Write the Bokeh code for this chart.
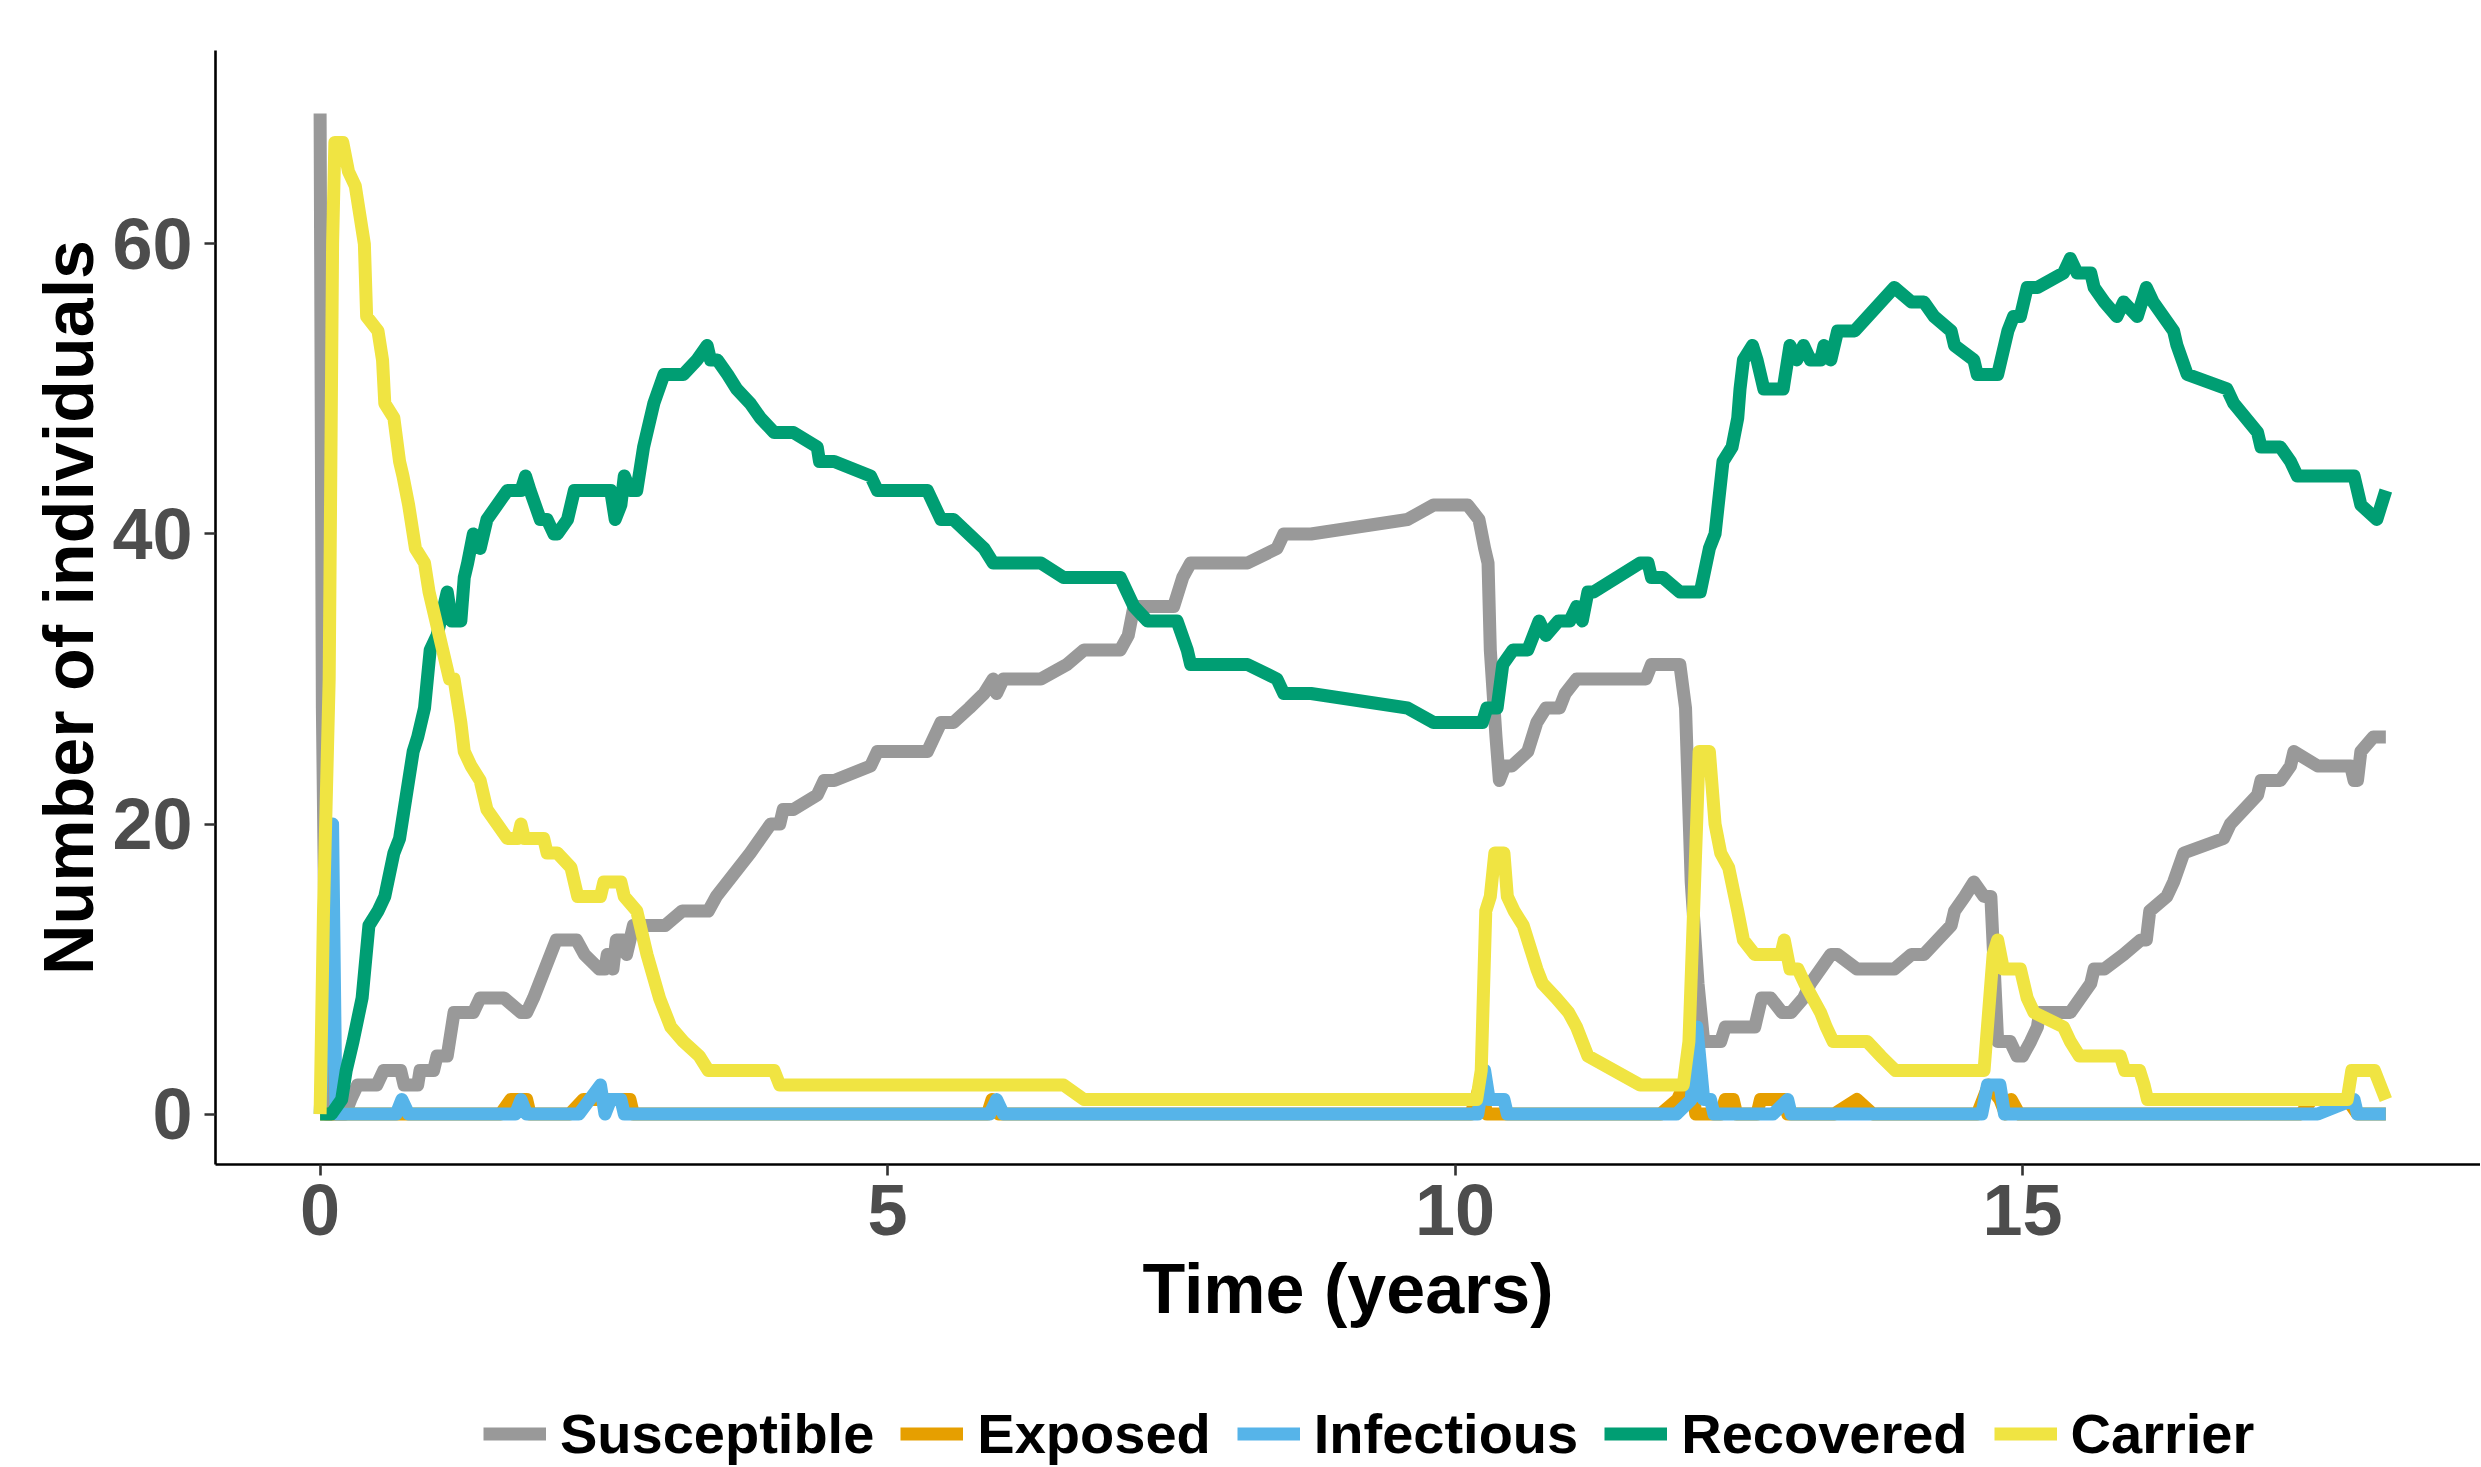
from bokeh.plotting import figure
from bokeh.layouts import column
from bokeh.models import Range1d, FixedTicker, Legend, LegendItem
from bokeh.embed import file_html
from bokeh.resources import INLINE

# ---- data (time in years, number of individuals) ----
susceptible = [(0, 69), (0.02, 28), (0.06, 0), (0.22, 0), (0.27, 1), (0.33, 2), (0.5, 2), (0.56, 3),
               (0.71, 3), (0.74, 2), (0.86, 2), (0.88, 3), (1.0, 3), (1.03, 4), (1.12, 4), (1.18, 7),
               (1.35, 7), (1.41, 8), (1.62, 8), (1.77, 7), (1.82, 7), (1.88, 8), (1.93, 9), (1.98, 10),
               (2.03, 11), (2.08, 12), (2.26, 12), (2.33, 11), (2.46, 10), (2.51, 10), (2.53, 11),
               (2.58, 10), (2.61, 12), (2.67, 12), (2.7, 11), (2.76, 13), (3.04, 13), (3.19, 14),
               (3.42, 14), (3.49, 15), (3.59, 16), (3.69, 17), (3.79, 18), (3.88, 19), (3.97, 20),
               (4.05, 20), (4.08, 21), (4.17, 21), (4.38, 22), (4.44, 23), (4.53, 23), (4.85, 24),
               (4.91, 25), (5.35, 25), (5.41, 26), (5.47, 27), (5.58, 27), (5.72, 28), (5.85, 29),
               (5.93, 30), (5.96, 29), (6.02, 30), (6.35, 30), (6.58, 31), (6.73, 32), (7.05, 32),
               (7.12, 33), (7.17, 35), (7.29, 35), (7.52, 35), (7.6, 37), (7.67, 38), (8.17, 38),
               (8.43, 39), (8.49, 40), (8.73, 40), (9.58, 41), (9.81, 42), (10.11, 42), (10.21, 41),
               (10.26, 39), (10.29, 38), (10.31, 32), (10.36, 26), (10.39, 23), (10.44, 24), (10.5, 24),
               (10.64, 25), (10.72, 27), (10.8, 28), (10.92, 28), (10.97, 29), (11.07, 30), (11.68, 30),
               (11.73, 31), (11.98, 31), (12.03, 28), (12.08, 16), (12.14, 9), (12.19, 5), (12.34, 5),
               (12.38, 6), (12.64, 6), (12.7, 8), (12.78, 8), (12.88, 7), (12.96, 7), (13.07, 8),
               (13.13, 9), (13.22, 10), (13.31, 11), (13.37, 11), (13.54, 10), (13.87, 10), (14.02, 11),
               (14.13, 11), (14.25, 12), (14.37, 13), (14.4, 14), (14.49, 15), (14.57, 16), (14.66, 15),
               (14.72, 15), (14.78, 5), (14.89, 5), (14.95, 4), (15.0, 4), (15.07, 5), (15.13, 6),
               (15.15, 7), (15.42, 7), (15.51, 8), (15.6, 9), (15.63, 10), (15.72, 10), (15.89, 11),
               (16.04, 12), (16.09, 12), (16.12, 14), (16.27, 15), (16.33, 16), (16.42, 18), (16.77, 19),
               (16.83, 20), (17.07, 22), (17.1, 23), (17.27, 23), (17.36, 24), (17.39, 25), (17.6, 24),
               (17.89, 24), (17.92, 23), (17.95, 23), (17.98, 25), (18.09, 26), (18.2, 26)]

exposed = [(0, 0), (1.59, 0), (1.68, 1), (1.82, 1), (1.85, 0), (2.2, 0), (2.32, 1), (2.73, 1), (2.76, 0),
           (5.88, 0), (5.92, 1), (5.98, 0), (10.14, 0), (10.22, 2), (10.28, 0), (11.81, 0), (11.96, 1),
           (12.07, 3), (12.12, 0), (12.34, 0), (12.38, 1), (12.45, 1), (12.48, 0), (12.66, 0), (12.69, 1),
           (12.9, 1), (12.93, 0), (13.34, 0), (13.54, 1), (13.68, 0), (14.6, 0), (14.7, 2), (14.8, 1),
           (14.85, 0), (14.9, 1), (14.97, 0), (17.45, 0), (17.55, 1), (17.86, 1), (17.95, 0), (18.2, 0)]

infectious = [(0, 0), (0.11, 20), (0.14, 0), (0.67, 0), (0.72, 1), (0.78, 0), (1.72, 0), (1.77, 1),
              (1.82, 0), (2.28, 0), (2.47, 2), (2.51, 0), (2.56, 1), (2.65, 1), (2.68, 0), (5.9, 0),
              (5.96, 1), (6.02, 0), (10.2, 0), (10.26, 3), (10.3, 1), (10.43, 1), (10.46, 0), (11.95, 0),
              (12.08, 1), (12.13, 6), (12.19, 1), (12.25, 1), (12.28, 0), (12.8, 0), (12.93, 1),
              (12.96, 0), (14.64, 0), (14.69, 2), (14.8, 2), (14.84, 0), (17.6, 0), (17.92, 1),
              (17.95, 0), (18.2, 0)]

recovered = [(0, 0), (0.1, 0), (0.19, 1), (0.23, 3), (0.29, 5), (0.37, 8), (0.43, 13), (0.51, 14),
             (0.57, 15), (0.65, 18), (0.70, 19), (0.76, 22), (0.82, 25), (0.86, 26), (0.92, 28),
             (0.97, 32), (1.03, 33), (1.09, 35), (1.12, 36), (1.16, 34), (1.24, 34), (1.27, 37),
             (1.3, 38), (1.35, 40), (1.41, 39), (1.47, 41), (1.56, 42), (1.65, 43), (1.77, 43),
             (1.81, 44), (1.85, 43), (1.94, 41), (2.0, 41), (2.06, 40), (2.09, 40), (2.18, 41),
             (2.24, 43), (2.56, 43), (2.6, 41), (2.65, 42), (2.68, 44), (2.73, 43), (2.79, 43),
             (2.85, 46), (2.94, 49), (3.03, 51), (3.2, 51), (3.32, 52), (3.41, 53), (3.44, 52),
             (3.5, 52), (3.59, 51), (3.67, 50), (3.79, 49), (3.88, 48), (4.0, 47), (4.17, 47),
             (4.38, 46), (4.4, 45), (4.53, 45), (4.85, 44), (4.91, 43), (5.35, 43), (5.41, 42),
             (5.47, 41), (5.58, 41), (5.85, 39), (5.93, 38), (6.35, 38), (6.55, 37), (7.05, 37),
             (7.17, 35), (7.29, 34), (7.55, 34), (7.64, 32), (7.67, 31), (8.17, 31), (8.43, 30),
             (8.49, 29), (8.73, 29), (9.58, 28), (9.81, 27), (10.24, 27), (10.28, 28), (10.37, 28),
             (10.42, 31), (10.51, 32), (10.64, 32), (10.69, 33), (10.74, 34), (10.8, 33), (10.91, 34),
             (11.01, 34), (11.07, 35), (11.12, 34), (11.17, 36), (11.22, 36), (11.63, 38), (11.7, 38),
             (11.73, 37), (11.83, 37), (11.98, 36), (12.16, 36), (12.24, 39), (12.29, 40), (12.36, 45),
             (12.44, 46), (12.49, 48), (12.51, 50), (12.54, 52), (12.62, 53), (12.66, 52), (12.72, 50),
             (12.89, 50), (12.95, 53), (13.01, 52), (13.07, 53), (13.13, 52), (13.22, 52), (13.25, 53),
             (13.31, 52), (13.37, 54), (13.52, 54), (13.87, 57), (14.02, 56), (14.13, 56), (14.22, 55),
             (14.37, 54), (14.4, 53), (14.57, 52), (14.6, 51), (14.78, 51), (14.81, 52), (14.87, 54),
             (14.92, 55), (14.98, 55), (15.04, 57), (15.13, 57), (15.36, 58), (15.42, 59), (15.48, 58),
             (15.6, 58), (15.63, 57), (15.72, 56), (15.83, 55), (15.89, 56), (16.01, 55), (16.09, 57),
             (16.15, 56), (16.33, 54), (16.36, 53), (16.45, 51), (16.8, 50), (16.86, 49), (17.07, 47),
             (17.1, 46), (17.27, 46), (17.36, 45), (17.42, 44), (17.92, 44), (17.98, 42), (18.12, 41),
             (18.2, 43)]

carrier = [(0, 0), (0.03, 14), (0.08, 30), (0.11, 60), (0.13, 67), (0.2, 67), (0.25, 65), (0.31, 64),
           (0.35, 62), (0.39, 60), (0.41, 55), (0.51, 54), (0.55, 52), (0.57, 49), (0.65, 48), (0.70, 45),
           (0.73, 44), (0.78, 42), (0.84, 39), (0.92, 38), (0.96, 36), (1.02, 34), (1.08, 32), (1.14, 30),
           (1.18, 30), (1.24, 27), (1.27, 25), (1.33, 24), (1.41, 23), (1.47, 21), (1.56, 20), (1.65, 19),
           (1.74, 19), (1.77, 20), (1.8, 19), (1.97, 19), (2.0, 18), (2.09, 18), (2.21, 17), (2.27, 15),
           (2.47, 15), (2.5, 16), (2.65, 16), (2.68, 15), (2.79, 14), (2.82, 13), (2.88, 11), (2.99, 8),
           (3.09, 6), (3.2, 5), (3.34, 4), (3.42, 3), (4.0, 3), (4.05, 2), (6.55, 2), (6.73, 1),
           (10.19, 1), (10.23, 3), (10.27, 14), (10.31, 15), (10.35, 18), (10.43, 18), (10.46, 15),
           (10.52, 14), (10.6, 13), (10.72, 10), (10.77, 9), (10.89, 8), (11.0, 7), (11.07, 6),
           (11.12, 5), (11.17, 4), (11.4, 3), (11.63, 2), (12.01, 2), (12.06, 5), (12.11, 16),
           (12.15, 25), (12.24, 25), (12.29, 20), (12.34, 18), (12.41, 17), (12.49, 14), (12.54, 12),
           (12.64, 11), (12.87, 11), (12.9, 12), (12.95, 10), (13.02, 10), (13.08, 9), (13.15, 8),
           (13.22, 7), (13.27, 6), (13.33, 5), (13.63, 5), (13.75, 4), (13.88, 3), (14.66, 3),
           (14.74, 11), (14.78, 12), (14.83, 10), (14.98, 10), (15.04, 8), (15.1, 7), (15.36, 6),
           (15.42, 5), (15.5, 4), (15.86, 4), (15.9, 3), (16.03, 3), (16.07, 2), (16.1, 1), (17.86, 1),
           (17.9, 3), (18.1, 3), (18.15, 2), (18.2, 1)]

series_names = ["Susceptible", "Exposed", "Infectious", "Recovered", "Carrier"]
series_data = [susceptible, exposed, infectious, recovered, carrier]
series_colors = ["#999999", "#E69F00", "#56B4E9", "#009E73", "#F0E442"]

x_ticks = [0, 5, 10, 15]
y_ticks = [0, 20, 40, 60]

FONT = "Liberation Sans"

# ---- main plot ----
p = figure(frame_width=2265, frame_height=1114,
           x_range=Range1d(-0.9216, 19.034), y_range=Range1d(-3.48, 73.34),
           output_backend="svg", toolbar_location=None,
           min_border_left=215, min_border_top=50, min_border_right=0, min_border_bottom=182)
p.outline_line_color = None
p.xgrid.visible = False
p.ygrid.visible = False
p.background_fill_color = "white"

for name, data, col in zip(series_names, series_data, series_colors):
    xs = [d[0] for d in data]
    ys = [d[1] for d in data]
    p.line(xs, ys, line_color=col, line_width=13, line_join="round", line_cap="butt")

for ax in (p.xaxis[0], p.yaxis[0]):
    ax.axis_line_color = "black"
    ax.axis_line_width = 2.6
    ax.major_tick_line_color = "#333333"
    ax.major_tick_line_width = 2.6
    ax.major_tick_out = 11
    ax.major_tick_in = 0
    ax.minor_tick_line_color = None
    ax.major_label_text_font = FONT
    ax.major_label_text_font_style = "bold"
    ax.major_label_text_font_size = "72px"
    ax.major_label_text_color = "#4D4D4D"
    ax.axis_label_text_font = FONT
    ax.axis_label_text_font_style = "bold"
    ax.axis_label_text_font_size = "70px"
    ax.axis_label_text_color = "black"

p.xaxis.ticker = FixedTicker(ticks=x_ticks)
p.yaxis.ticker = FixedTicker(ticks=y_ticks)
p.xaxis.axis_label = "Time (years)"
p.yaxis.axis_label = "Number of individuals"
p.xaxis.major_label_standoff = 9
p.xaxis.axis_label_standoff = 12
p.yaxis.major_label_standoff = 12
p.yaxis.axis_label_standoff = 1

# ---- legend strip below the plot (key swatches only; their points lie outside the view) ----
leg = figure(width=2481, height=120, x_range=Range1d(0, 1), y_range=Range1d(0, 1),
             x_axis_location=None, y_axis_location=None,
             output_backend="svg", toolbar_location=None, min_border=0)
leg.outline_line_color = None
leg.xgrid.visible = False
leg.ygrid.visible = False
items = []
for name, col in zip(series_names, series_colors):
    r = leg.line([5, 6], [5, 5], line_color=col, line_width=13, line_cap="butt")
    items.append(LegendItem(label=name, renderers=[r]))

legend = Legend(items=items, orientation="horizontal", location=(268, 0),
                label_text_font=FONT, label_text_font_style="bold", label_text_font_size="56px",
                label_text_color="black", glyph_width=63, glyph_height=15, label_standoff=14,
                spacing=26, padding=0, margin=0, border_line_color=None, background_fill_alpha=0)
leg.add_layout(legend, "center")

layout = column(p, leg, spacing=0)
open("out.html", "w").write(file_html(layout, INLINE))
